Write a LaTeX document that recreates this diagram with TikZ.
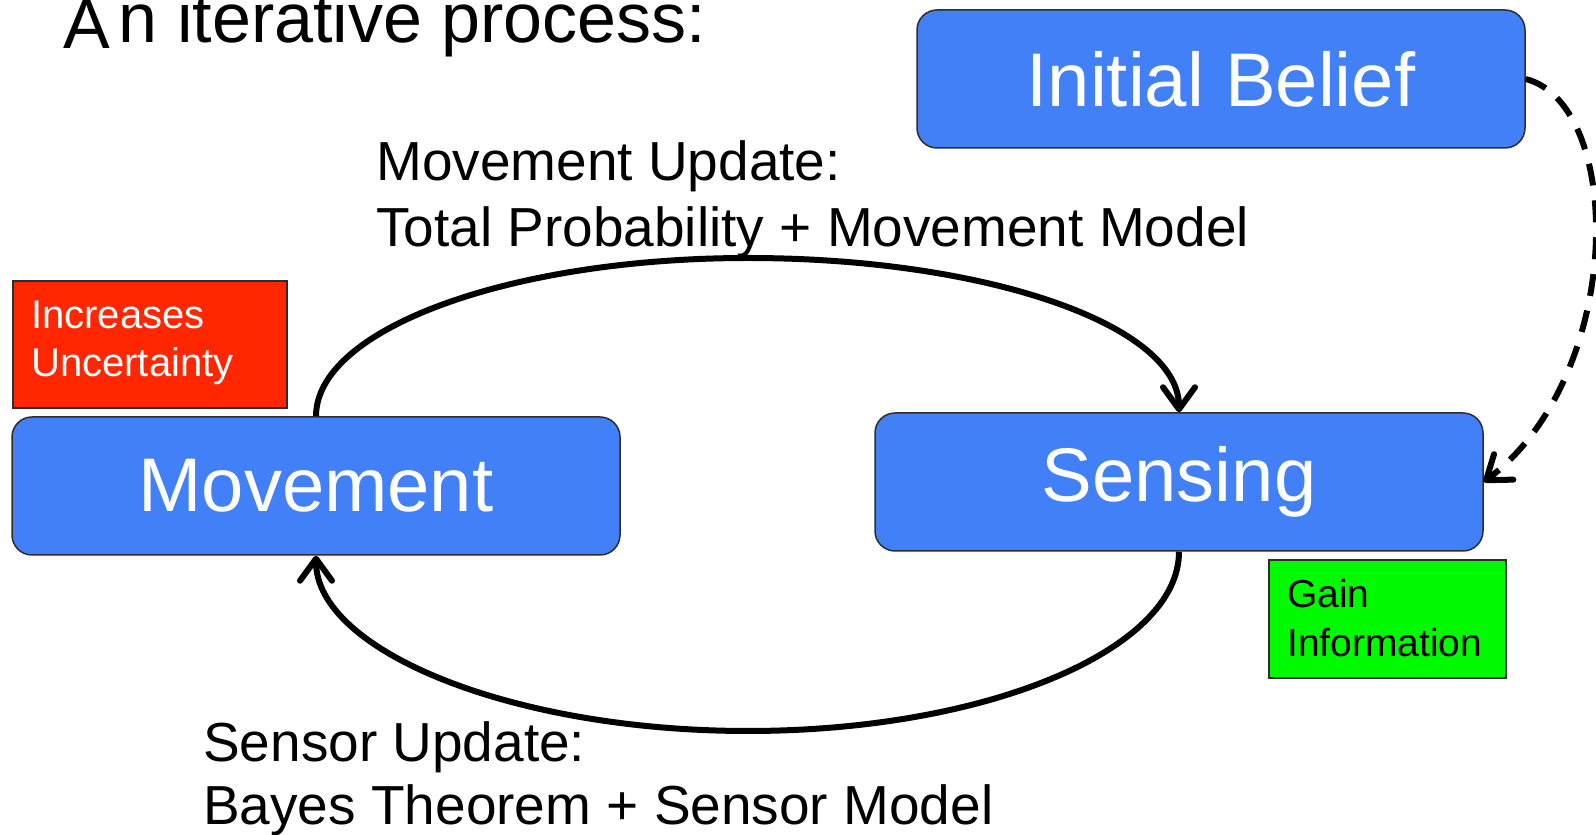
\documentclass[tikz,border=0pt]{standalone}
\usepackage{fontspec}
\setmainfont{Liberation Sans}
\usetikzlibrary{arrows.meta}
\definecolor{boxblue}{RGB}{66,128,247}
\definecolor{warnred}{RGB}{255,38,0}
\definecolor{gaingreen}{RGB}{0,250,0}
\definecolor{edgegray}{RGB}{45,45,45}
\tikzset{
  bluebox/.style={draw=edgegray, line width=1.5pt, fill=boxblue, rounded corners=20pt,
    minimum width=608pt, minimum height=138pt, text=white, inner sep=0pt,
    font=\fontsize{76}{80}\selectfont},
  notebox/.style={draw=edgegray, line width=1.5pt, inner sep=0pt},
  flow/.style={line width=6pt, -{Straight Barb[length=22pt,width=32pt,line width=6pt,round]}},
  dashflow/.style={flow, dash pattern=on 22pt off 15pt},
  lbl/.style={anchor=base west, inner sep=0pt, font=\fontsize{55}{60}\selectfont},
  notetext/.style={anchor=base west, inner sep=0pt, font=\fontsize{40}{44}\selectfont},
}
\begin{document}
\begin{tikzpicture}[x=1pt,y=1pt]
\useasboundingbox (0,0) rectangle (1596,835);
\fill[white] (0,0) rectangle (1596,835);

% title
\node[anchor=base west, inner sep=0pt, font=\fontsize{70}{74}\selectfont] (title) at (63,792)
  {\raisebox{-6pt}{A}\kern9pt n iterative process:};

% main boxes
\node[bluebox] (init) at (1221,756) {Initial Belief};
\node[bluebox] (movement) at (316,349) {Movement};
\node[bluebox] (sensing) at (1179,353) {Sensing};

% note boxes
\node[notebox, fill=warnred, minimum width=274pt, minimum height=127pt] (incr) at (150,490.5) {};
\node[notetext, text=white] (incr1) at (31,506) {Increases};
\node[notetext, text=white] (incr2) at (31,458) {Uncertainty};

\node[notebox, fill=gaingreen, minimum width=237pt, minimum height=118pt] (gain) at (1387.5,216) {};
\node[notetext, font=\fontsize{39}{43}\selectfont] (gain1) at (1287,227) {Gain};
\node[notetext, font=\fontsize{39}{43}\selectfont] (gain2) at (1287,178) {Information};

% labels
\node[lbl] (mu1) at (376,654) {Movement Update:};
\node[lbl] (mu2) at (376,588) {Total Probability + Movement Model};
\node[lbl] (su1) at (203,73) {Sensor Update:};
\node[lbl] (su2) at (203,10) {Bayes Theorem + Sensor Model};

% connectors
\coordinate (toparc) at (748,577);
\coordinate (botarc) at (748,104);
\draw[flow] (movement.north) .. controls (316,506) and (510,577) .. (toparc)
  .. controls (986,577) and (1179,510) .. (sensing.north);
\draw[flow] (sensing.south) .. controls (1179,185) and (986,104) .. (botarc)
  .. controls (510,104) and (316,185) .. (movement.south);
\draw[dashflow] (init.east) .. controls (1625,730) and (1625,460) .. (sensing.east);
\end{tikzpicture}
\end{document}
